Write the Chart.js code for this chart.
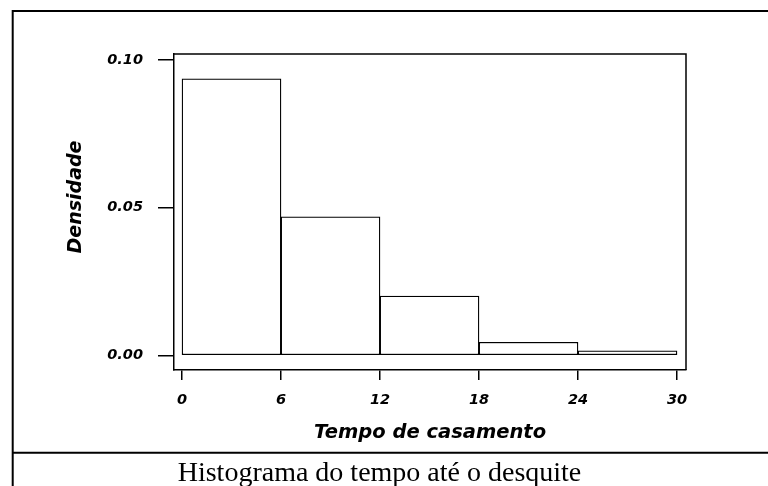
<!DOCTYPE html>
<html>
<head>
<meta charset="utf-8">
<script src="https://cdn.jsdelivr.net/npm/chart.js@4/dist/chart.umd.min.js"></script>
<style>
  html, body { margin: 0; padding: 0; background: #fff; }
  #wrap { position: relative; width: 768px; height: 486px; }
  canvas { display: block; }
</style>
</head>
<body>
<div id="wrap"><canvas id="c" width="768" height="486"></canvas></div>
<script>
// ---- data ----
const binEdges = [0, 6, 12, 18, 24, 30];
const density = [0.0936, 0.0469, 0.0201, 0.0045, 0.0016];
const xTicks = [0, 6, 12, 18, 24, 30];
const yTicks = [0, 0.05, 0.10];
const yTickLabels = ['0.00', '0.05', '0.10'];
const xTitle = 'Tempo de casamento';
const yTitle = 'Densidade';
const caption = 'Histograma do tempo até o desquite';

const barData = density.map((d, i) => ({ x: (binEdges[i] + binEdges[i + 1]) / 2, y: d }));

const axisFont = { family: 'DejaVu Sans', size: 14.5, weight: 'bold', style: 'italic' };
const titleFont = { family: 'DejaVu Sans', size: 19.5, weight: 'bold', style: 'italic' };

const framePlugin = {
  id: 'frame',
  afterDraw(chart) {
    const ctx = chart.ctx;
    const a = chart.chartArea;
    ctx.save();
    // plot box top and right
    ctx.strokeStyle = '#000';
    ctx.lineWidth = 1.5;
    ctx.beginPath();
    ctx.moveTo(a.left, a.top);
    ctx.lineTo(a.right, a.top);
    ctx.lineTo(a.right, a.bottom);
    ctx.stroke();
    // outer frame
    ctx.lineWidth = 2;
    ctx.beginPath();
    ctx.moveTo(12.7, 486);
    ctx.lineTo(12.7, 11);
    ctx.moveTo(11.7, 11);
    ctx.lineTo(768, 11);
    ctx.moveTo(12, 452.7);
    ctx.lineTo(768, 452.7);
    ctx.stroke();
    // y title
    ctx.fillStyle = '#000';
    ctx.font = 'italic bold 19px "DejaVu Sans"';
    ctx.textAlign = 'center';
    ctx.textBaseline = 'middle';
    ctx.translate(76, 197);
    ctx.rotate(-Math.PI / 2);
    ctx.fillText(yTitle, 0, 0);
    ctx.restore();
    // caption
    ctx.save();
    ctx.fillStyle = '#000';
    ctx.font = '28px "Liberation Serif"';
    ctx.textAlign = 'center';
    ctx.textBaseline = 'alphabetic';
    ctx.fillText(caption, 379.5, 481);
    ctx.restore();
  }
};

new Chart(document.getElementById('c'), {
  type: 'bar',
  data: {
    datasets: [{
      data: barData,
      backgroundColor: '#fff',
      borderColor: '#000',
      borderWidth: 1.3,
      borderSkipped: false,
      barPercentage: 1,
      categoryPercentage: 1
    }]
  },
  options: {
    responsive: false,
    animation: false,
    devicePixelRatio: 1,
    layout: { padding: { top: 54, right: 82, bottom: 33, left: 0 } },
    plugins: { legend: { display: false }, tooltip: { enabled: false }, title: { display: false } },
    scales: {
      x: {
        type: 'linear',
        min: -0.485,
        max: 30.545,
        offset: false,
        afterFit(s) { s.height = 83; },
        afterBuildTicks(s) { s.ticks = xTicks.map(v => ({ value: v })); },
        grid: { display: true, offset: false, drawOnChartArea: false, drawTicks: true, tickLength: 10, color: '#000', lineWidth: 1.5 },
        border: { display: true, color: '#000', width: 1.5 },
        ticks: { color: '#000', font: axisFont, padding: 11.5, maxRotation: 0, autoSkip: false,
                 callback: v => String(v) },
        title: { display: true, text: xTitle, color: '#000', font: titleFont, padding: { top: 0, bottom: 8.3 } }
      },
      y: {
        type: 'linear',
        min: -0.0049,
        max: 0.102,
        afterFit(s) { s.width = 174; },
        afterBuildTicks(s) { s.ticks = yTicks.map(v => ({ value: v })); },
        grid: { display: true, offset: false, drawOnChartArea: false, drawTicks: true, tickLength: 16, color: '#000', lineWidth: 1.5 },
        border: { display: true, color: '#000', width: 1.5 },
        ticks: { color: '#000', font: axisFont, padding: 15, autoSkip: false,
                 callback: (v) => { const i = yTicks.indexOf(v); return i >= 0 ? yTickLabels[i] : ''; } }
      }
    }
  },
  plugins: [framePlugin]
});
</script>
</body>
</html>
